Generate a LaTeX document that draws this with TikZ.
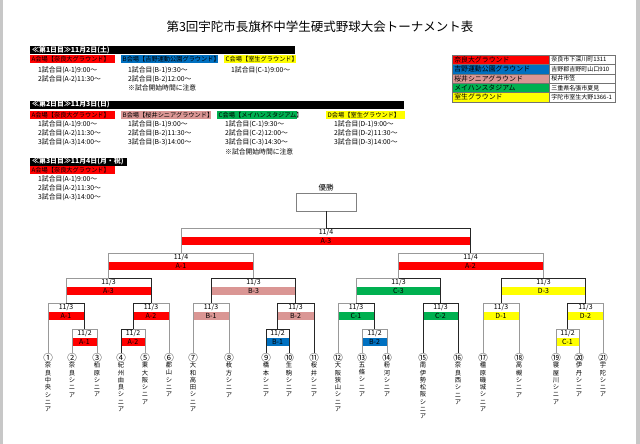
\documentclass[tikz,border=0pt]{standalone}
\usepackage{fontspec}
\setmainfont{Noto Sans CJK JP}
\definecolor{cR}{HTML}{FF0000}
\definecolor{cB}{HTML}{0070C0}
\definecolor{cP}{HTML}{DA9694}
\definecolor{cG}{HTML}{00B050}
\definecolor{cY}{HTML}{FFFF00}
\newcommand\mtch[7]{%
  \coordinate (#1-t) at ({(#2+#3)/2},#4);
  \node[barbox,fill=#6,minimum width={#3-#2}] (#1) at ({(#2+#3)/2},#4+12.75) {#5};
  \node[datebox] (#1-d) at ({(#2+#3)/2},#4+4.3) {#7};
}
\newcommand\conn[5]{%
  \draw[#4] (#2) |- (#1-t);
  \draw[#5] (#3) |- (#1-t);
}
\newcommand\team[4]{%
  \node[circnum] (t#1) at (#2,358) {#3};
  \node[teamname] (n#1) at (#2,362.3) {#4};
}
\begin{document}
\begin{tikzpicture}[x=1pt,y=-1pt,
  dk/.style={draw=black!85,line width=0.8pt},
  lt/.style={draw=black!40,line width=0.8pt},
  barbox/.style={rectangle,inner sep=0pt,minimum height=8.5pt,font=\fontsize{7}{8}\selectfont},
  datebox/.style={inner sep=0pt,font=\fontsize{7}{8}\selectfont},
  circnum/.style={inner sep=0pt,font=\fontsize{9.5}{10}\selectfont},
  teamname/.style={anchor=north,align=center,inner sep=0pt,font=\fontsize{6.3}{7.3}\selectfont},
  hdr/.style={anchor=west,fill=black,text=white,inner xsep=2pt,inner ysep=0pt,minimum height=8pt,align=left,font=\bfseries\fontsize{6.9}{8}\selectfont},
  venue/.style={anchor=west,inner xsep=1.5pt,inner ysep=0pt,minimum height=8.5pt,align=left,font=\fontsize{6.2}{8}\selectfont},
  sched/.style={anchor=west,inner sep=0pt,font=\fontsize{6.8}{8}\selectfont},
  legl/.style={anchor=west,draw=black!55,line width=0.5pt,inner xsep=2pt,inner ysep=0pt,minimum height=9.4pt,text width=93pt,align=left,font=\fontsize{6.9}{8}\selectfont},
  legr/.style={anchor=west,draw=black!55,line width=0.5pt,fill=white,inner xsep=2pt,inner ysep=0pt,minimum height=9.4pt,text width=62pt,align=left,font=\fontsize{6}{7}\selectfont}]
\fill[white] (0,0) rectangle (640,444);
\fill[black!22] (0,0) rectangle (3,444);
\fill[black!22] (636,0) rectangle (640,444);
\useasboundingbox (0,0) rectangle (640,444);

% title
\node[font=\fontsize{12.5}{14}\selectfont] (title) at (320,27) {第3回宇陀市長旗杯中学生硬式野球大会トーナメント表};

% day 1
\node[hdr,text width=261pt] (h1) at (30,50) {≪第1日目≫11月2日(土)};
\node[venue,fill=cR,text width=82pt] (v1a) at (30,59) {A会場【奈良大グラウンド】};
\node[venue,fill=cB,text width=94pt] (v1b) at (121,59) {B会場【吉野運動公園グラウンド】};
\node[venue,fill=cY,text width=69pt] (v1c) at (224,59) {C会場【室生グラウンド】};
\node[sched] (s1a1) at (38,70) {1試合目(A-1)9:00～};
\node[sched] (s1a2) at (38,79) {2試合目(A-2)11:30～};
\node[sched] (s1b1) at (128,70) {1試合目(B-1)9:30～};
\node[sched] (s1b2) at (128,79) {2試合目(B-2)12:00～};
\node[sched] (s1b3) at (128,88) {※試合開始時間に注意};
\node[sched] (s1c1) at (231,70) {1試合目(C-1)9:00～};

% day 2
\node[hdr,text width=370pt] (h2) at (30,104.5) {≪第2日目≫11月3日(日)};
\node[venue,fill=cR,text width=82pt] (v2a) at (30,115) {A会場【奈良大グラウンド】};
\node[venue,fill=cP,text width=87pt] (v2b) at (121,115) {B会場【桜井シニアグラウンド】};
\node[venue,fill=cG,text width=77pt] (v2c) at (217,115) {C会場【メイハンスタジアム】};
\node[venue,fill=cY,text width=76pt] (v2d) at (326,115) {D会場【室生グラウンド】};
\node[sched] (s2a1) at (38,124) {1試合目(A-1)9:00～};
\node[sched] (s2a2) at (38,133) {2試合目(A-2)11:30～};
\node[sched] (s2a3) at (38,142) {3試合目(A-3)14:00～};
\node[sched] (s2b1) at (128,124) {1試合目(B-1)9:00～};
\node[sched] (s2b2) at (128,133) {2試合目(B-2)11:30～};
\node[sched] (s2b3) at (128,142) {3試合目(B-3)14:00～};
\node[sched] (s2c1) at (225,124) {1試合目(C-1)9:30～};
\node[sched] (s2c2) at (225,133) {2試合目(C-2)12:00～};
\node[sched] (s2c3) at (225,142) {3試合目(C-3)14:30～};
\node[sched] (s2c4) at (225,152) {※試合開始時間に注意};
\node[sched] (s2d1) at (334,124) {1試合目(D-1)9:00～};
\node[sched] (s2d2) at (334,133) {2試合目(D-2)11:30～};
\node[sched] (s2d3) at (334,142) {3試合目(D-3)14:00～};

% day 3
\node[hdr,text width=93pt] (h3) at (30,161.5) {≪第3日目≫11月4日(月・祝)};
\node[venue,fill=cR,text width=82pt] (v3a) at (30,170) {A会場【奈良大グラウンド】};
\node[sched] (s3a1) at (38,179) {1試合目(A-1)9:00～};
\node[sched] (s3a2) at (38,188) {2試合目(A-2)11:30～};
\node[sched] (s3a3) at (38,197) {3試合目(A-3)14:00～};

% legend
\node[legl,fill=cR] (g1) at (452,59.7) {奈良大グラウンド};
\node[legl,fill=cB] (g2) at (452,69.1) {吉野運動公園グラウンド};
\node[legl,fill=cP] (g3) at (452,78.5) {桜井シニアグラウンド};
\node[legl,fill=cG] (g4) at (452,87.9) {メイハンスタジアム};
\node[legl,fill=cY] (g5) at (452,97.3) {室生グラウンド};
\node[legr] (a1) at (549,59.7) {奈良市下深川町1311};
\node[legr] (a2) at (549,69.1) {吉野郡吉野町山口910};
\node[legr] (a3) at (549,78.5) {桜井市笠};
\node[legr] (a4) at (549,87.9) {三重県名張市夏見};
\node[legr] (a5) at (549,97.3) {宇陀市室生大野1366-1};

% winner
\node[font=\fontsize{7.5}{8}\selectfont] (winl) at (326,187.5) {優勝};
\node[draw=black!50,line width=0.8pt,minimum width=60pt,minimum height=18pt,inner sep=0pt] (win) at (326,202) {};

% teams
\team{1}{48}{①}{奈\\良\\中\\央\\シ\\ニ\\ア}
\team{2}{72}{②}{奈\\良\\シ\\ニ\\ア}
\team{3}{97}{③}{柏\\原\\シ\\ニ\\ア}
\team{4}{121}{④}{紀\\州\\由\\良\\シ\\ニ\\ア}
\team{5}{145}{⑤}{東\\大\\阪\\シ\\ニ\\ア}
\team{6}{169}{⑥}{郡\\山\\シ\\ニ\\ア}
\team{7}{193}{⑦}{大\\和\\高\\田\\シ\\ニ\\ア}
\team{8}{229}{⑧}{枚\\方\\シ\\ニ\\ア}
\team{9}{266}{⑨}{橋\\本\\シ\\ニ\\ア}
\team{10}{289}{⑩}{生\\駒\\シ\\ニ\\ア}
\team{11}{314}{⑪}{桜\\井\\シ\\ニ\\ア}
\team{12}{338}{⑫}{大\\阪\\狭\\山\\シ\\ニ\\ア}
\team{13}{362}{⑬}{五\\條\\シ\\ニ\\ア}
\team{14}{387}{⑭}{粉\\河\\シ\\ニ\\ア}
\team{15}{423}{⑮}{南\\伊\\勢\\松\\阪\\シ\\ニ\\ア}
\team{16}{458}{⑯}{奈\\良\\西\\シ\\ニ\\ア}
\team{17}{483}{⑰}{橿\\原\\磯\\城\\シ\\ニ\\ア}
\team{18}{519}{⑱}{高\\槻\\シ\\ニ\\ア}
\team{19}{556}{⑲}{寝\\屋\\川\\シ\\ニ\\ア}
\team{20}{579}{⑳}{伊\\丹\\シ\\ニ\\ア}
\team{21}{603}{㉑}{宇\\陀\\シ\\ニ\\ア}

% matches
\mtch{F}{181}{471}{228}{A-3}{cR}{11/4}
\mtch{S1}{109}{253}{253}{A-1}{cR}{11/4}
\mtch{S2}{398}{543}{253}{A-2}{cR}{11/4}
\mtch{Q1}{66}{151}{278}{A-3}{cR}{11/3}
\mtch{Q2}{211}{296}{278}{B-3}{cP}{11/3}
\mtch{Q3}{356}{441}{278}{C-3}{cG}{11/3}
\mtch{Q4}{501}{586}{278}{D-3}{cY}{11/3}
\mtch{R1}{48}{84}{303}{A-1}{cR}{11/3}
\mtch{R2}{133}{169}{303}{A-2}{cR}{11/3}
\mtch{R3}{193}{229}{303}{B-1}{cP}{11/3}
\mtch{R4}{277}{314}{303}{B-2}{cP}{11/3}
\mtch{R5}{338}{374}{303}{C-1}{cG}{11/3}
\mtch{R6}{423}{458}{303}{C-2}{cG}{11/3}
\mtch{R7}{483}{519}{303}{D-1}{cY}{11/3}
\mtch{R8}{568}{603}{303}{D-2}{cY}{11/3}
\mtch{P1}{72}{97}{329}{A-1}{cR}{11/2}
\mtch{P2}{121}{145}{329}{A-2}{cR}{11/2}
\mtch{P3}{266}{289}{329}{B-1}{cB}{11/2}
\mtch{P4}{362}{387}{329}{B-2}{cB}{11/2}
\mtch{P5}{556}{579}{329}{C-1}{cY}{11/2}

% connectors
\draw[dk] (win.south) -- (F-t);
\conn{F}{S1-t}{S2-t}{lt}{dk}
\conn{S1}{Q1-t}{Q2-t}{lt}{lt}
\conn{S2}{Q3-t}{Q4-t}{lt}{lt}
\conn{Q1}{R1-t}{R2-t}{lt}{dk}
\conn{Q2}{R3-t}{R4-t}{dk}{dk}
\conn{Q3}{R5-t}{R6-t}{lt}{dk}
\conn{Q4}{R7-t}{R8-t}{dk}{dk}
\conn{R1}{t1.north}{P1-t}{lt}{dk}
\conn{R2}{P2-t}{t6.north}{dk}{lt}
\conn{R3}{t7.north}{t8.north}{lt}{lt}
\conn{R4}{P3-t}{t11.north}{dk}{dk}
\conn{R5}{t12.north}{P4-t}{lt}{dk}
\conn{R6}{t15.north}{t16.north}{dk}{dk}
\conn{R7}{t17.north}{t18.north}{lt}{lt}
\conn{R8}{P5-t}{t21.north}{dk}{lt}
\conn{P1}{t2.north}{t3.north}{lt}{lt}
\conn{P2}{t4.north}{t5.north}{dk}{lt}
\conn{P3}{t9.north}{t10.north}{dk}{dk}
\conn{P4}{t13.north}{t14.north}{lt}{lt}
\conn{P5}{t19.north}{t20.north}{lt}{lt}
\end{tikzpicture}
\end{document}
